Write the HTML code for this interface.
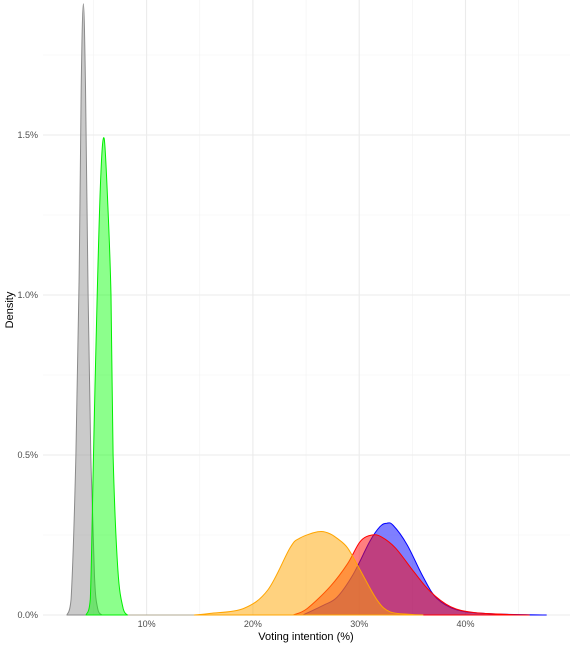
<!DOCTYPE html>
<html><head><meta charset="utf-8"><style>
html,body{margin:0;padding:0;background:#fff;}
svg{display:block;font-family:"Liberation Sans",sans-serif;}
</style></head><body>
<svg id="chart" width="575" height="647"></svg>
<script>
const xTicks=[10,20,30,40];
const xMinor=[5,15,25,35,45];
const yTicks=[0,0.5,1.0,1.5];
const yMinor=[0.25,0.75,1.25,1.75];
const xTickLabels=["10%","20%","30%","40%"];
const yTickLabels=["0.0%","0.5%","1.0%","1.5%"];
const grayX=[2.5,2.9,3.35,3.65,3.85,4.05,4.25,4.5,4.75,5.1,5.4,5.8];
const grayY=[0,0.05,0.5,1.05,1.65,1.91,1.65,1.0,0.5,0.12,0.02,0];
const greenX=[4.3,4.7,5.0,5.35,5.7,6.0,6.3,6.65,6.85,7.3,7.8,8.2];
const greenY=[0,0.05,0.5,1.0,1.38,1.49,1.32,1.0,0.5,0.14,0.02,0];
const orangeX=[14.5,16.0,19.1,21.4,23.5,24.4,26.1,27.1,27.9,28.9,30.1,31.7,32.9,34.8,36];
const orangeY=[0,0.005,0.02,0.078,0.21,0.24,0.26,0.256,0.24,0.21,0.14,0.046,0.01,0.002,0];
const redX=[23.8,25.1,27.3,28.9,30.1,31.2,32.1,33.4,35.1,36.7,38.6,40.7,43.9,46];
const redY=[0,0.02,0.09,0.16,0.23,0.25,0.244,0.21,0.137,0.073,0.026,0.008,0.002,0];
const blueX=[24.7,26.6,27.9,29.4,31.0,31.95,32.6,33.2,34.5,36.0,37.3,39.2,42.3,47.6];
const blueY=[0,0.03,0.055,0.125,0.23,0.276,0.287,0.28,0.22,0.12,0.052,0.016,0.004,0];

const NS="http://www.w3.org/2000/svg";
const svg=document.getElementById('chart');
const L=43,R=570,T=0,B=615;
const sx=v=>40.3+v*10.63;
const sy=v=>615-v*320;
function el(t,a){const e=document.createElementNS(NS,t);for(const k in a)e.setAttribute(k,a[k]);svg.appendChild(e);return e;}
yMinor.forEach(v=>{const g=el('line',{x1:L,x2:R,y1:sy(v),y2:sy(v),stroke:'#f2f2f2','stroke-width':0.6});

});
xMinor.forEach(v=>{const g=el('line',{x1:sx(v),x2:sx(v),y1:T,y2:B,stroke:'#f2f2f2','stroke-width':0.6});

});
yTicks.forEach((v,i)=>{const g=el('line',{x1:L,x2:R,y1:sy(v),y2:sy(v),stroke:'#ebebeb','stroke-width':1.1});


const t=el('text',{x:38,y:sy(v)+3,'text-anchor':'end','font-size':9,fill:'#4d4d4d'});t.textContent=yTickLabels[i];

});
xTicks.forEach((v,i)=>{const g=el('line',{x1:sx(v),x2:sx(v),y1:T,y2:B,stroke:'#ebebeb','stroke-width':1.1});


const t=el('text',{x:sx(v),y:627,'text-anchor':'middle','font-size':9,fill:'#4d4d4d'});t.textContent=xTickLabels[i];

});
const base=el('line',{x1:sx(2.5),x2:sx(47.6),y1:B,y2:B,stroke:'#b0a890','stroke-width':1});


function area(xs,ys,fill,stroke,name){
 const P=xs.map((x,i)=>[sx(x),sy(ys[i])]);
 let d='M'+P[0][0].toFixed(1)+','+P[0][1].toFixed(1);
 for(let i=0;i<P.length-1;i++){
  const p0=P[Math.max(0,i-1)],p1=P[i],p2=P[i+1],p3=P[Math.min(P.length-1,i+2)];
  let c1y=p1[1]+(p2[1]-p0[1])/6, c2y=p2[1]-(p3[1]-p1[1])/6;
  c1y=Math.min(c1y,B); c2y=Math.min(c2y,B);
  const c1=[p1[0]+(p2[0]-p0[0])/6,c1y], c2=[p2[0]-(p3[0]-p1[0])/6,c2y];
  d+=' C'+c1[0].toFixed(1)+','+c1[1].toFixed(1)+' '+c2[0].toFixed(1)+','+c2[1].toFixed(1)+' '+p2[0].toFixed(1)+','+p2[1].toFixed(1);
 }
 d+=' Z';
 const p=el('path',{d:d,fill:fill,stroke:stroke,'stroke-width':1,'stroke-linejoin':'round'});
 
 
}
area(grayX,grayY,'rgba(150,150,150,0.5)','#8a8a8a','density-gray');
area(greenX,greenY,'rgba(0,255,0,0.45)','#00ee00','density-green');
area(blueX,blueY,'rgba(0,0,255,0.5)','#0000ff','density-blue');
area(redX,redY,'rgba(255,0,0,0.5)','#ff0000','density-red');
area(orangeX,orangeY,'rgba(255,165,0,0.5)','#ffa500','density-orange');
const xt=el('text',{x:306,y:640,'text-anchor':'middle','font-size':11,fill:'#000'});xt.textContent='Voting intention (%)';


const yt=el('text',{x:0,y:0,'text-anchor':'middle','font-size':11,fill:'#000',transform:'translate(13,310) rotate(-90)'});yt.textContent='Density';


</script>
</body></html>
